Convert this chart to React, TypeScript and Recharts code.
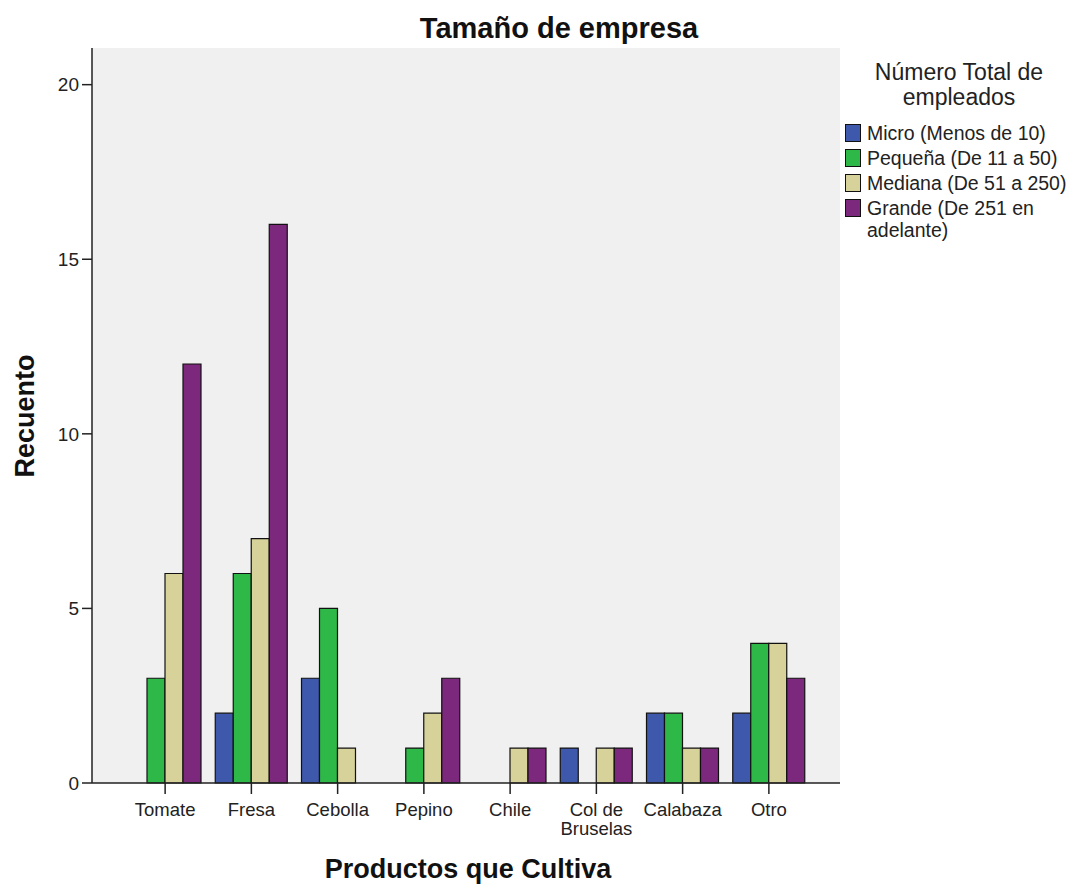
import React from "react"
import { Bar, BarChart, CartesianGrid, XAxis, YAxis } from "recharts"

const products = ["Tomate", "Fresa", "Cebolla", "Pepino", "Chile", "Col de Bruselas", "Calabaza", "Otro"]
const micro = [0, 2, 3, 0, 0, 1, 2, 2]
const pequena = [3, 6, 5, 1, 0, 0, 2, 4]
const mediana = [6, 7, 1, 2, 1, 1, 1, 4]
const grande = [12, 16, 0, 3, 1, 1, 1, 3]
const yTicks = [0, 5, 10, 15, 20]

const series = [
  { key: "micro", name: "Micro (Menos de 10)", color: "#3e58ac" },
  { key: "pequena", name: "Pequeña (De 11 a 50)", color: "#2eb848" },
  { key: "mediana", name: "Mediana (De 51 a 250)", color: "#d6d29a" },
  { key: "grande", name: "Grande (De 251 en adelante)", color: "#7c287d" },
]

const data = products.map((name, i) => ({
  name,
  micro: micro[i],
  pequena: pequena[i],
  mediana: mediana[i],
  grande: grande[i],
}))

const font = "'Liberation Sans', Arial, sans-serif"

function ProductTick({ x, y, payload }: any) {
  // "Col de Bruselas" va en dos líneas, como en el original
  const lines = payload.value === "Col de Bruselas" ? ["Col de", "Bruselas"] : [payload.value]
  return (
    <text x={x} y={y} textAnchor="middle" fontSize={18.5} fontFamily={font} fill="#222">
      {lines.map((l, i) => (
        <tspan key={i} x={x} dy={i === 0 ? 20 : 19}>
          {l}
        </tspan>
      ))}
    </text>
  )
}

export default function App() {
  return (
    <div style={{ position: "absolute", left: 0, top: 0, width: 1071, height: 884, background: "#fff", fontFamily: font }}>
      <BarChart
        width={1071}
        height={884}
        data={data}
        margin={{ top: 48, right: 231, bottom: 41, left: 32 }}
        barGap={0}
        barSize={18}
      >
        <CartesianGrid horizontal={false} vertical={false} fill="#f0f0f0" />
        <XAxis
          dataKey="name"
          padding={{ left: 30, right: 28 }}
          height={60}
          interval={0}
          tick={<ProductTick />}
          tickSize={11}
          axisLine={{ stroke: "#222", strokeWidth: 1.5 }}
          tickLine={{ stroke: "#222", strokeWidth: 1.5 }}
        />
        <XAxis xAxisId="top" orientation="top" dataKey="name" height={0} tick={false} tickLine={false} axisLine={{ stroke: "#444", strokeWidth: 1.5 }} />
        <YAxis
          domain={[0, 21.05]}
          ticks={yTicks}
          width={60}
          tickSize={10}
          tickMargin={3}
          tick={{ fontSize: 19, fontFamily: font, fill: "#222" }}
          axisLine={{ stroke: "#222", strokeWidth: 1.5 }}
          tickLine={{ stroke: "#222", strokeWidth: 1.5 }}
        />
        <YAxis yAxisId="right" orientation="right" width={0} domain={[0, 21.05]} tick={false} tickLine={false} axisLine={{ stroke: "#444", strokeWidth: 1.5 }} />
        {series.map((s) => (
          <Bar key={s.key} dataKey={s.key} name={s.name} fill={s.color} stroke="#111" strokeWidth={1.2} isAnimationActive={false} />
        ))}
      </BarChart>

      <div style={{ position: "absolute", left: 359, top: 12, width: 400, textAlign: "center", fontSize: 29, fontWeight: "bold", color: "#111" }}>
        Tamaño de empresa
      </div>
      <div
        style={{
          position: "absolute",
          left: 25,
          top: 416,
          transform: "translate(-50%, -50%) rotate(-90deg)",
          fontSize: 27,
          fontWeight: "bold",
          color: "#111",
          whiteSpace: "nowrap",
        }}
      >
        Recuento
      </div>
      <div style={{ position: "absolute", left: 268, top: 854, width: 400, textAlign: "center", fontSize: 27, fontWeight: "bold", color: "#111" }}>
        Productos que Cultiva
      </div>

      <div style={{ position: "absolute", left: 849, top: 60, width: 220, textAlign: "center", fontSize: 23, lineHeight: "25px", color: "#222" }}>
        Número Total de
        <br />
        empleados
      </div>
      <div style={{ position: "absolute", left: 845, top: 122, width: 226 }}>
        {series.map((s) => (
          <div key={s.key} style={{ display: "flex", alignItems: "flex-start", marginBottom: 3 }}>
            <div style={{ width: 16, height: 18, background: s.color, border: "1.5px solid #111", boxSizing: "border-box", marginTop: 2, flexShrink: 0 }} />
            <div style={{ marginLeft: 6, fontSize: 19.5, lineHeight: "22px", color: "#222", width: 200 }}>{s.name}</div>
          </div>
        ))}
      </div>
    </div>
  )
}
